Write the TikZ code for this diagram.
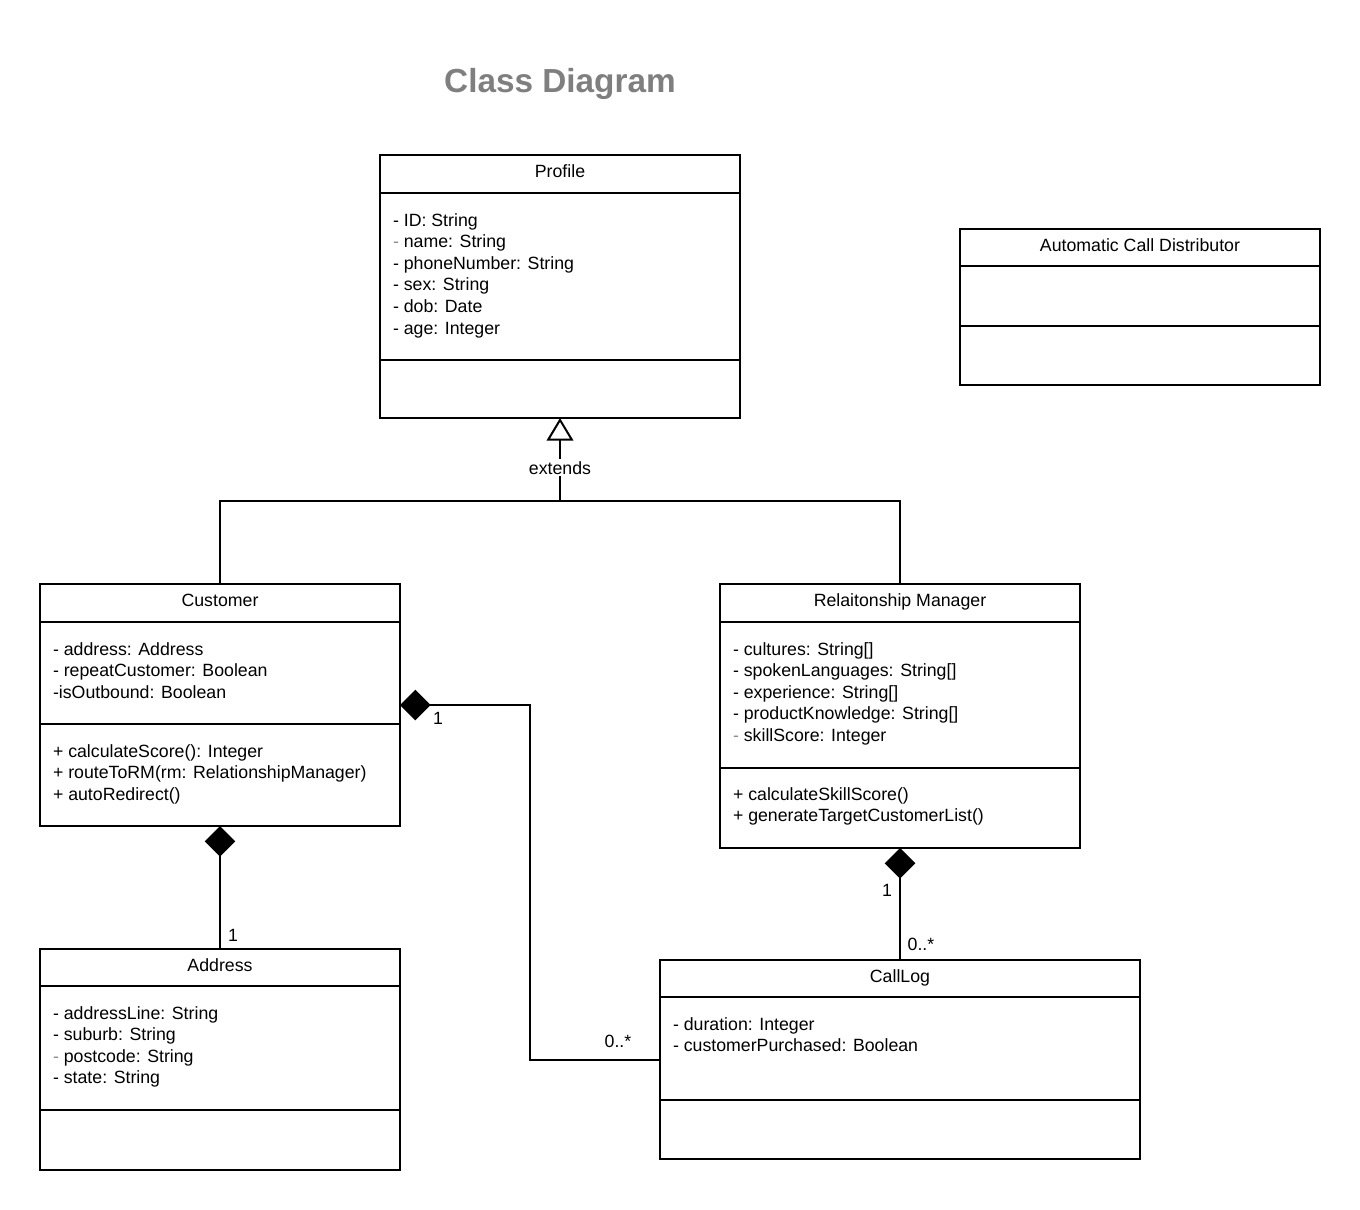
\documentclass[tikz,border=0pt]{standalone}
\usepackage{fontspec}
\setmainfont{Liberation Sans}
\usetikzlibrary{arrows.meta,calc}
\definecolor{titlegrey}{HTML}{7F7F7F}
\definecolor{dashgrey}{HTML}{8C8C8C}
\newcommand{\umlfont}{\fontsize{13.3}{16}\selectfont}
\newcommand{\gd}{\textcolor{dashgrey}{-}}

\begin{document}
\begin{tikzpicture}[x=0.75pt,y=-0.75pt,line width=1.5pt,
    class node/.style 2 args={draw,rectangle,inner sep=0pt,outer sep=0pt,anchor=north west,minimum width=#1*0.75pt,minimum height=#2*0.75pt},
    class name/.style={anchor=base,inner sep=0pt,font=\umlfont},
    member/.style={anchor=base west,inner sep=0pt,font=\umlfont},
    mult/.style={anchor=base,inner sep=0pt,font=\umlfont},
    composition/.style={-{Diamond[length=23pt,width=23pt]}},
    extends/.style={-{Triangle[length=17pt,width=20pt,fill=white]}}]
    \useasboundingbox[fill=white] (0,0) rectangle (1360,1210);

    \node[anchor=base,inner sep=0pt,text=titlegrey,font=\fontsize{25}{30}\selectfont\bfseries] (title) at (560,92) {Class Diagram};

    % Profile
    \node[class node={360}{263}] (profile) at (380,155) {};
    \draw (profile.west |- 0,193) -- (profile.east |- 0,193);
    \draw (profile.west |- 0,360) -- (profile.east |- 0,360);
    \node[class name] (profile name) at (560,177) {Profile};
    \foreach \txt [count=\i] in {- ID: String, \gd{} name: String, - phoneNumber: String, - sex: String, - dob: Date, - age: Integer}
        \node[member] (profile attr \i) at (392,{204.4+21.6*\i}) {\txt};

    % Automatic Call Distributor
    \node[class node={360}{156}] (acd) at (960,229) {};
    \draw (acd.west |- 0,266) -- (acd.east |- 0,266);
    \draw (acd.west |- 0,326) -- (acd.east |- 0,326);
    \node[class name] (acd name) at (1140,251) {Automatic Call Distributor};

    % Customer
    \node[class node={360}{242}] (customer) at (40,584) {};
    \draw (customer.west |- 0,622) -- (customer.east |- 0,622);
    \draw (customer.west |- 0,724) -- (customer.east |- 0,724);
    \node[class name] (customer name) at (220,606) {Customer};
    \foreach \txt [count=\i] in {- address: Address, - repeatCustomer: Boolean, -isOutbound: Boolean}
        \node[member] (customer attr \i) at (52,{633.4+21.6*\i}) {\txt};
    \foreach \txt [count=\i] in {+ calculateScore(): Integer, + routeToRM(rm: RelationshipManager), + autoRedirect()}
        \node[member] (customer op \i) at (52,{735.4+21.6*\i}) {\txt};

    % Relationship Manager
    \node[class node={360}{264}] (rm) at (720,584) {};
    \draw (rm.west |- 0,622) -- (rm.east |- 0,622);
    \draw (rm.west |- 0,768) -- (rm.east |- 0,768);
    \node[class name] (rm name) at (900,606) {Relaitonship Manager};
    \foreach \txt [count=\i] in {- cultures: String[], - spokenLanguages: String[], - experience: String[], - productKnowledge: String[], \gd{} skillScore: Integer}
        \node[member] (rm attr \i) at (732,{633.4+21.6*\i}) {\txt};
    \foreach \txt [count=\i] in {+ calculateSkillScore(), + generateTargetCustomerList()}
        \node[member] (rm op \i) at (732,{778.4+21.6*\i}) {\txt};

    % Address
    \node[class node={360}{221}] (address) at (40,949) {};
    \draw (address.west |- 0,986) -- (address.east |- 0,986);
    \draw (address.west |- 0,1110) -- (address.east |- 0,1110);
    \node[class name] (address name) at (220,971) {Address};
    \foreach \txt [count=\i] in {- addressLine: String, - suburb: String, \gd{} postcode: String, - state: String}
        \node[member] (address attr \i) at (52,{997.4+21.6*\i}) {\txt};

    % CallLog
    \node[class node={480}{199}] (calllog) at (660,960) {};
    \draw (calllog.west |- 0,997) -- (calllog.east |- 0,997);
    \draw (calllog.west |- 0,1100) -- (calllog.east |- 0,1100);
    \node[class name] (calllog name) at (900,982) {CallLog};
    \foreach \txt [count=\i] in {- duration: Integer, - customerPurchased: Boolean}
        \node[member] (calllog attr \i) at (672,{1008.4+21.6*\i}) {\txt};

    % generalization
    \coordinate (fork) at (560,501);
    \draw (customer.north) |- (fork) -| (rm.north);
    \draw[extends] (fork) -- (profile.south)
        node[pos=0.4,fill=white,inner sep=1.5pt,font=\umlfont] (extends label) {extends};

    % compositions
    \draw[composition] (address.north) -- (customer.south);
    \draw[composition] (calllog.west) -| ($(customer.east)!.5!(calllog.west)$) |- (customer.east);
    \draw[composition] (calllog.north) -- (rm.south);

    \node[mult] (address one) at (233,941) {1};
    \node[mult] (customer one) at (438,724) {1};
    \node[mult] (customer many) at (618,1047) {0..*};
    \node[mult] (rm one) at (887,896) {1};
    \node[mult] (rm many) at (921,950) {0..*};
\end{tikzpicture}
\end{document}
